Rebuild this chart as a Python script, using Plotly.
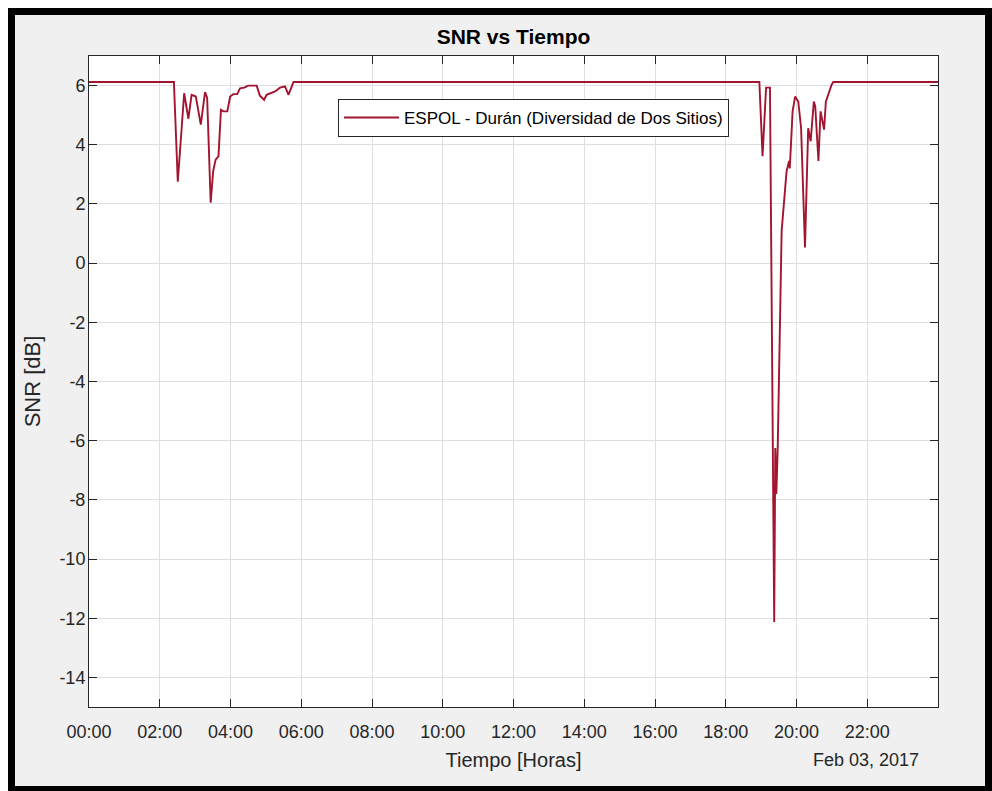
import plotly.graph_objects as go

# --- data (hours of day, SNR in dB) ---
hours = [0.00, 2.40, 2.51, 2.69, 2.81, 2.90, 3.02, 3.16, 3.28, 3.34, 3.44, 3.51, 3.58, 3.66,
         3.73, 3.80, 3.91, 3.99, 4.08, 4.19, 4.27, 4.39, 4.50, 4.74, 4.83, 4.95, 5.02, 5.16,
         5.26, 5.40, 5.54, 5.64, 5.78,
         18.95, 19.04, 19.14, 19.25, 19.37, 19.40, 19.43, 19.47, 19.58, 19.62, 19.72, 19.79,
         19.81, 19.89, 19.96, 20.05, 20.13, 20.24, 20.33, 20.40, 20.49, 20.53, 20.62, 20.68,
         20.78, 20.83, 20.90, 20.99, 21.04, 24.00]
snr = [6.12, 6.12, 2.75, 5.74, 4.88, 5.69, 5.63, 4.68, 5.78, 5.58, 2.04, 3.11, 3.50, 3.61,
       5.18, 5.13, 5.13, 5.63, 5.71, 5.71, 5.91, 5.93, 6.00, 6.00, 5.66, 5.52, 5.69, 5.74,
       5.80, 5.93, 5.97, 5.69, 6.12,
       6.12, 3.61, 5.93, 5.93, -12.13, -6.25, -7.80, -6.20, 1.09, 1.65, 3.11, 3.45,
       3.20, 5.13, 5.63, 5.46, 4.56, 0.53, 4.56, 4.12, 5.46, 5.30, 3.45, 5.13,
       4.51, 5.46, 5.74, 6.02, 6.12, 6.12]

x_tickvals = [0, 2, 4, 6, 8, 10, 12, 14, 16, 18, 20, 22]
x_ticktext = ["00:00", "02:00", "04:00", "06:00", "08:00", "10:00", "12:00",
              "14:00", "16:00", "18:00", "20:00", "22:00"]
y_tickvals = [-14, -12, -10, -8, -6, -4, -2, 0, 2, 4, 6]
y_ticktext = ["-14", "-12", "-10", "-8", "-6", "-4", "-2", "0", "2", "4", "6"]

series_name = "ESPOL - Durán (Diversidad de Dos Sitios)"
date_label = "Feb 03, 2017"

W, H = 992, 791
L, R, T, B = 89, 938, 56, 707
pw, ph = R - L, B - T


def px(x):
    return (x - L) / pw


def py(y):
    return 1 - (y - T) / ph


fig = go.Figure()
fig.add_trace(go.Scatter(x=hours, y=snr, mode="lines", name=series_name,
                         line=dict(color="#A2142F", width=1.9)))

FONT = "Liberation Sans, Arial, sans-serif"
axcol = "#262626"
fig.update_layout(
    width=W, height=H,
    margin=dict(l=L, r=W - R, t=T, b=H - B, autoexpand=False),
    paper_bgcolor="#F0F0F0", plot_bgcolor="white",
    font=dict(family=FONT, color=axcol, size=18),
    title=dict(text="<b>SNR vs Tiempo</b>", x=(L + R) / 2 / W, xanchor="center",
               y=1 - 37 / H, yanchor="middle", font=dict(size=21, color="#000000")),
    showlegend=True,
    legend=dict(x=px(338), y=py(99), xanchor="left", yanchor="top",
                bgcolor="white", bordercolor="#262626", borderwidth=1,
                font=dict(size=17, color="#000000"), itemwidth=55,
                tracegroupgap=0),
    xaxis=dict(range=[0, 24], tickvals=x_tickvals, ticktext=x_ticktext,
               ticks="inside", ticklen=8, tickcolor=axcol, showline=True,
               linecolor=axcol, linewidth=1, mirror="ticks", showgrid=True,
               gridcolor="#DFDFDF", zeroline=False, tickfont=dict(size=18),
               ticklabelstandoff=8,
               title=dict(text="Tiempo [Horas]", font=dict(size=20), standoff=12)),
    yaxis=dict(range=[-15, 7], tickvals=y_tickvals, ticktext=y_ticktext,
               ticks="inside", ticklen=8, tickcolor=axcol, showline=True,
               linecolor=axcol, linewidth=1, mirror="ticks", showgrid=True,
               gridcolor="#DFDFDF", zeroline=False, tickfont=dict(size=18),
               ticklabelstandoff=-1,
               title=dict(text="SNR [dB]", font=dict(size=22), standoff=12)),
)

fig.add_annotation(text=date_label, xref="paper", yref="paper",
                   x=px(921), y=py(760), xanchor="right", yanchor="middle",
                   showarrow=False, font=dict(size=18, color=axcol))

# window frame: white strip, then black border
fig.add_shape(type="rect", xref="paper", yref="paper", layer="above",
              x0=px(4), y0=py(4), x1=px(W + 10), y1=py(H + 10),
              line=dict(color="white", width=8), fillcolor="rgba(0,0,0,0)")
fig.add_shape(type="rect", xref="paper", yref="paper", layer="above",
              x0=px(11.5), y0=py(11.5), x1=px(988.5), y1=py(789.5),
              line=dict(color="black", width=7), fillcolor="rgba(0,0,0,0)")

fig.write_html("out.html")
